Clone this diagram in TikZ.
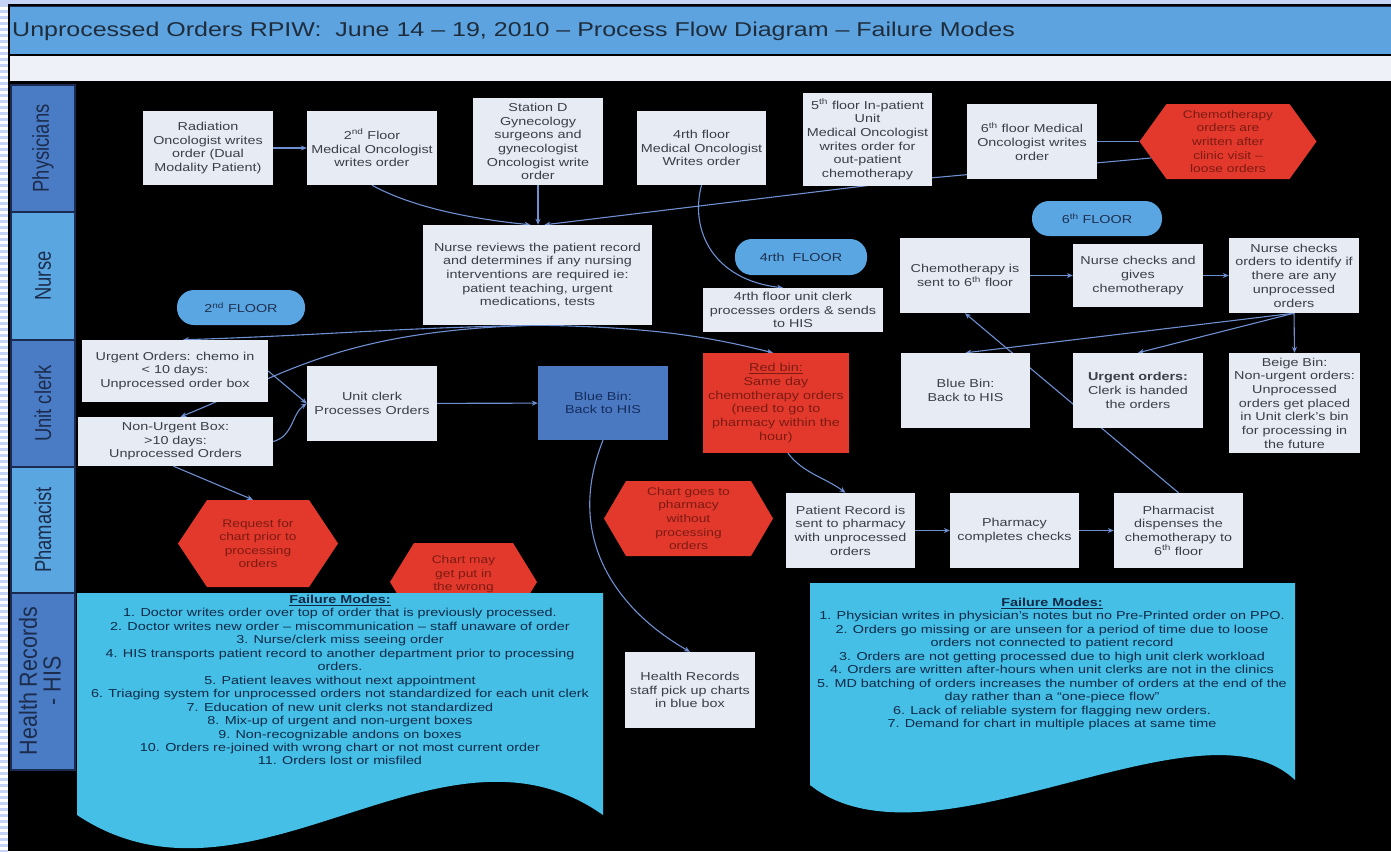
\documentclass[tikz,border=0pt]{standalone}
\usepackage{fontspec}
\usepackage{graphicx}
\setmainfont{Liberation Sans}[FakeStretch=1.25]
\newfontfamily\lanefont{Liberation Sans}
\usetikzlibrary{arrows.meta}

\pgfdeclarelayer{base}
\pgfdeclarelayer{wires}
\pgfsetlayers{base,wires,main}

\definecolor{boxfill}{HTML}{E6EBF4}
\definecolor{boxtext}{HTML}{3A3F48}
\definecolor{wire}{HTML}{6E8FD2}
\definecolor{alarm}{HTML}{E2392C}
\definecolor{alarmtext}{HTML}{7D1A12}
\definecolor{pill}{HTML}{5AA6E2}
\definecolor{pilltext}{HTML}{1E3050}
\definecolor{bluebin}{HTML}{4A79C2}
\definecolor{bluebintext}{HTML}{142C5C}
\definecolor{fmfill}{HTML}{45BFE6}
\definecolor{fmtext}{HTML}{0E2A48}
\definecolor{titlebar}{HTML}{5CA3DF}
\definecolor{titletext}{HTML}{1E2C3C}
\definecolor{subbar}{HTML}{EEF1F7}
\definecolor{lanedark}{HTML}{4A7CC6}
\definecolor{lanelight}{HTML}{5AA6E0}
\definecolor{lanetext}{HTML}{1C2C4C}
\definecolor{laneedge}{HTML}{1A2A50}
\definecolor{stripe}{HTML}{C5D3F6}

% red hexagon: centre x, centre y, half width, half height, tip inset
\newcommand{\alarmhex}[5]{%
  \fill[alarm] ({#1-#3},#2) -- ({#1-#3+#5},{#2-#4}) -- ({#1+#3-#5},{#2-#4})
    -- ({#1+#3},#2) -- ({#1+#3-#5},{#2+#4}) -- ({#1-#3+#5},{#2+#4}) -- cycle;}

\tikzset{
  stepbox/.style={fill=boxfill, text=boxtext, align=center, inner sep=2pt,
    font=\fontsize{11.5}{13.7}\selectfont},
  sz/.style 2 args={minimum width=#1pt, minimum height=#2pt},
  redbox/.style={stepbox, fill=alarm, text=alarmtext},
  bluebox/.style={stepbox, fill=bluebin, text=bluebintext},
  floorpill/.style={fill=pill, text=pilltext, rounded corners=17pt,
    minimum height=35pt, align=center, font=\fontsize{11.5}{13.7}\selectfont},
  hextext/.style={align=center, text=alarmtext, inner sep=0pt,
    font=\fontsize{11}{13.6}\selectfont},
  conn/.style={draw=wire, line width=1.1pt, -{Stealth[length=6pt,width=5pt]}},
  wireline/.style={draw=wire, line width=1.1pt},
  lanebox/.style={draw=laneedge, line width=1.2pt},
  lanelabel/.style={rotate=90, text=lanetext, align=center,
    font=\lanefont\fontsize{18.4}{19}\selectfont},
  fmtextstyle/.style={text=fmtext, align=center, inner sep=0pt,
    font=\fontsize{11.5}{13.45}\selectfont},
}

\begin{document}
\begin{tikzpicture}[x=1pt,y=-1pt]
\useasboundingbox (0,0) rectangle (1391,851);

% frame, striped margin
\begin{pgfonlayer}{base}
  \fill[black] (0,0) rectangle (1391,851);
  \fill[stripe] (0,0) rectangle (1391,4);
  \fill[white] (0,4) rectangle (8,851);
  \foreach \i in {0,...,141} \fill[stripe] (0,{4+\i*6}) rectangle (8,{7+\i*6});
\end{pgfonlayer}

% title and sub-bar
\fill[titlebar] (10,7) rectangle (1391,54);
\draw[laneedge, line width=1pt] (10,7) -- (1391,7);
\node[anchor=west, text=titletext, inner sep=0pt,
  font=\fontsize{20}{24}\selectfont] (title) at (12,31)
  {Unprocessed Orders RPIW:\ \ June 14 – 19, 2010 – Process Flow Diagram – Failure Modes};
\fill[subbar] (10,56) rectangle (1391,81);

% swim-lane labels
\path[lanebox, fill=lanedark]  (11,85)  rectangle (75,212);
\path[lanebox, fill=lanelight] (11,212) rectangle (75,340);
\path[lanebox, fill=lanedark]  (11,340) rectangle (75,467);
\path[lanebox, fill=lanelight] (11,467) rectangle (75,593);
\path[lanebox, fill=lanedark]  (11,593) rectangle (75,770);
\node[lanelabel] (lphys) at (43,148.5) {\scalebox{1}[1.25]{Physicians}};
\node[lanelabel] (lnurse) at (43,276) {\scalebox{1}[1.25]{Nurse}};
\node[lanelabel] (lclerk) at (43,403.5) {\scalebox{1}[1.25]{Unit clerk}};
\node[lanelabel] (lpharm) at (43,530) {\scalebox{1}[1.25]{Phamacist}};
\node[lanelabel, font=\lanefont\fontsize{21.5}{19}\selectfont] (lhis) at (43,681)
  {\scalebox{1}[1.15]{\begin{tabular}{@{}c@{}}Health Records\\- HIS\end{tabular}}};

% physicians
\node[stepbox, sz={130}{74}] (rad) at (208,148) {Radiation\\Oncologist writes\\order (Dual\\Modality Patient)};
\node[stepbox, sz={130}{74}] (mo2) at (372,148) {2\textsuperscript{nd} Floor\\Medical Oncologist\\writes order};
\node[stepbox, sz={130}{87}] (stD) at (538,141.5) {Station D\\Gynecology\\surgeons and\\gynecologist\\Oncologist write\\order};
\node[stepbox, sz={129}{74}] (mo4) at (701.5,148) {4rth floor\\Medical Oncologist\\Writes order};
\node[stepbox, sz={129}{93}] (mo5) at (867.5,139.5) {5\textsuperscript{th} floor In-patient\\Unit\\Medical Oncologist\\writes order for\\out-patient\\chemotherapy};
\node[stepbox, sz={130}{75}] (mo6) at (1032,141.5) {6\textsuperscript{th} floor Medical\\Oncologist writes\\order};
\alarmhex{1228}{141.5}{88.5}{37.5}{27}
\node[hextext, sz={177}{75}] (hexA) at (1228,141.5) {Chemotherapy\\orders are\\written after\\clinic visit –\\loose orders};

% nurse
\node[stepbox, sz={229}{100}] (nrev) at (537.5,275) {Nurse reviews the patient record\\and determines if any nursing\\interventions are required ie:\\patient teaching, urgent\\medications, tests};
\node[floorpill, minimum width=132pt, minimum height=36pt] (f4) at (801,257) {4rth\ \ FLOOR};
\node[stepbox, sz={180}{44}] (uc4) at (793,310) {4rth floor unit clerk\\processes orders \& sends\\to HIS};
\node[floorpill, minimum width=130pt] (f6) at (1097,218.5) {6\textsuperscript{th} FLOOR};
\node[stepbox, sz={130}{75}] (chemo) at (965,275.5) {Chemotherapy is\\sent to 6\textsuperscript{th} floor};
\node[stepbox, sz={130}{63}] (ngive) at (1138,275.5) {Nurse checks and\\gives\\chemotherapy};
\node[stepbox, sz={130}{75}] (ncheck) at (1294,275.5) {Nurse checks\\orders to identify if\\there are any\\unprocessed\\orders};
\node[floorpill, minimum width=128pt] (f2) at (241,307.5) {2\textsuperscript{nd} FLOOR};

% unit clerk
\node[stepbox, sz={186}{62}] (urg) at (175,371) {Urgent Orders: chemo in\\\textless{} 10 days:\\Unprocessed order box};
\node[stepbox, sz={195}{49}] (nurg) at (175.5,441.5) {Non-Urgent Box:\\\textgreater10 days:\\Unprocessed Orders};
\node[stepbox, sz={130}{75}] (ucp) at (372,403.5) {Unit clerk\\Processes Orders};
\node[bluebox, sz={130}{74}] (bbin) at (603,403) {Blue Bin:\\Back to HIS};
\node[redbox, sz={146}{100}] (rbin) at (776,403) {\underline{Red bin:}\\Same day\\chemotherapy orders\\(need to go to\\pharmacy within the\\hour)};
\node[stepbox, sz={129}{75}] (bbin2) at (965.5,390.5) {Blue Bin:\\Back to HIS};
\node[stepbox, sz={130}{75}] (urg6) at (1138,390.5) {\textbf{Urgent orders:}\\Clerk is handed\\the orders};
\node[stepbox, sz={131}{100}] (beige) at (1294.5,403) {Beige Bin:\\Non-urgent orders:\\Unprocessed\\orders get placed\\in Unit clerk’s bin\\for processing in\\the future};

% pharmacist
\alarmhex{258}{543.5}{80}{43.5}{29}
\node[hextext, sz={160}{87}] (hexB) at (258,543.5) {Request for\\chart prior to\\processing\\orders};
\alarmhex{688.5}{518.5}{84.5}{37.5}{22}
\node[hextext, sz={169}{75}] (hexC) at (688.5,518.5) {Chart goes to\\pharmacy\\without\\processing\\orders};
\alarmhex{463.5}{582}{73.5}{39}{24}
\node[hextext] (hexD) at (463.5,574.5) {Chart may\\get put in\\the wrong};
\node[stepbox, sz={129}{75}] (prec) at (850.5,530.5) {Patient Record is\\sent to pharmacy\\with unprocessed\\orders};
\node[stepbox, sz={129}{75}] (pchk) at (1014.5,530.5) {Pharmacy\\completes checks};
\node[stepbox, sz={129}{75}] (pdisp) at (1178.5,530.5) {Pharmacist\\dispenses the\\chemotherapy to\\6\textsuperscript{th} floor};

% health records
\node[stepbox, sz={130}{76}] (hrec) at (690,690) {Health Records\\staff pick up charts\\in blue box};

% failure-mode documents with wavy lower edge
\fill[fmfill] (77,593) -- (603,593) -- (603,815) .. controls (440,700) and (250,930) .. (77,815) -- cycle;
\node[fmtextstyle, anchor=north] (fmL) at (340,595) {\underline{\textbf{Failure Modes:}}\\
1. Doctor writes order over top of order that is previously processed.\\
2. Doctor writes new order – miscommunication – staff unaware of order\\
3. Nurse/clerk miss seeing order\\
4. HIS transports patient record to another department prior to processing\\
orders.\\
5. Patient leaves without next appointment\\
6. Triaging system for unprocessed orders not standardized for each unit clerk\\
7. Education of new unit clerks not standardized\\
8. Mix-up of urgent and non-urgent boxes\\
9. Non-recognizable andons on boxes\\
10. Orders re-joined with wrong chart or not most current order\\
11. Orders lost or misfiled};

\fill[fmfill] (810,583) -- (1295,583) -- (1295,780) .. controls (1200,690) and (930,880) .. (810,785) -- cycle;
\node[fmtextstyle, anchor=north] (fmR) at (1052,598) {\underline{\textbf{Failure Modes:}}\\
1. Physician writes in physician’s notes but no Pre-Printed order on PPO.\\
2. Orders go missing or are unseen for a period of time due to loose\\
orders not connected to patient record\\
3. Orders are not getting processed due to high unit clerk workload\\
4. Orders are written after-hours when unit clerks are not in the clinics\\
5. MD batching of orders increases the number of orders at the end of the\\
day rather than a “one-piece flow”\\
6. Lack of reliable system for flagging new orders.\\
7. Demand for chart in multiple places at same time};

% connectors
\begin{pgfonlayer}{wires}
  \draw[conn] (rad) -- (mo2);
  \draw[conn] (mo2.south) .. controls +(40,22) and +(-60,-6) .. ([xshift=-7pt]nrev.north);
  \draw[conn] (stD.south) -- (stD.south |- nrev.north);
  \coordinate (hexfoot) at (1151,158);
  \coordinate (underfive) at (930,178);
  \draw[wireline] (hexA.west) -- (mo6.east);
  \draw[conn] (hexfoot) -- (underfive) -- ([xshift=7pt]nrev.north);
  \draw[conn] (mo4.south) .. controls +(-12,45) and +(-70,-8) .. ([xshift=-10pt]uc4.north);
  \draw[conn] (nrev.south) .. controls +(-150,3) and +(150,-5) .. ([xshift=8pt]urg.north);
  \draw[conn] (nrev.south) .. controls +(-200,5) and +(100,-40) .. ([xshift=5pt]nurg.north);
  \draw[conn] (nrev.south) .. controls +(120,2) and +(-60,-15) .. ([xshift=-3pt]rbin.north);
  \draw[conn] (urg.east) -- (ucp.west);
  \draw[conn] (nurg.east) .. controls +(20,-5) and +(-15,10) .. (ucp.west);
  \draw[conn] (ucp) -- (bbin);
  \draw[conn] (bbin.south) .. controls +(-40,100) and +(-70,-40) .. (hrec.north);
  \draw[conn] ([xshift=12pt]rbin.south) .. controls +(15,20) and +(-20,-15) .. ([xshift=-5pt]prec.north);
  \draw[conn] (prec) -- (pchk);
  \draw[conn] (pchk) -- (pdisp);
  \draw[conn] (pdisp.north) -- (chemo.south);
  \draw[conn] (chemo) -- (ngive);
  \draw[conn] (ngive) -- (ncheck);
  \draw[conn] (ncheck.south) -- (bbin2.north);
  \draw[conn] (ncheck.south) -- (urg6.north);
  \draw[conn] (ncheck.south) -- (beige.north);
  \draw[conn] ([xshift=-2pt]nurg.south) -- ([xshift=-5pt]hexB.north);
\end{pgfonlayer}
\end{tikzpicture}
\end{document}
